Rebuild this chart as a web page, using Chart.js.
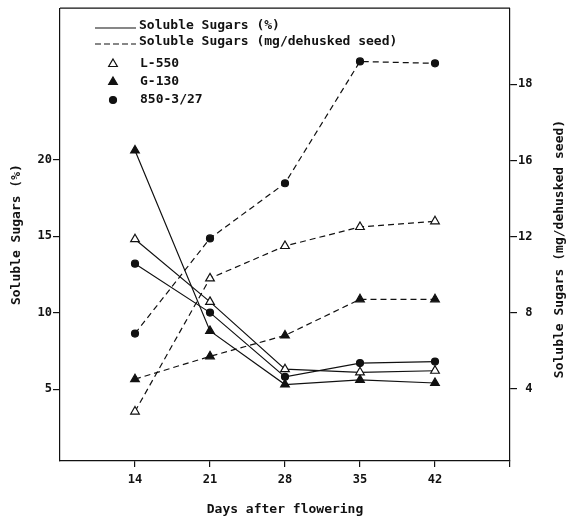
<!DOCTYPE html>
<html>
<head>
<meta charset="utf-8">
<script src="https://cdn.jsdelivr.net/npm/chart.js@4.4.1/dist/chart.umd.min.js"></script>
<style>
  html, body { margin: 0; padding: 0; background: #fff; }
  #wrap { width: 570px; height: 521px; }
</style>
</head>
<body>
<div id="wrap"><canvas id="sugarChart"></canvas></div>
<script>
const days = [14, 21, 28, 35, 42];

// Soluble sugars (%) - left axis
const pctL550 = [14.8, 10.7, 6.3, 6.1, 6.2];
const pctG130 = [20.6, 8.8, 5.3, 5.6, 5.4];
const pct850 = [13.2, 10.0, 5.8, 6.7, 6.8];

// Soluble sugars (mg/dehusked seed) - right axis
const mgL550 = [2.8, 9.8, 11.5, 12.5, 12.8];
const mgG130 = [4.5, 5.7, 6.8, 8.7, 8.7];
const mg850 = [6.9, 11.9, 14.8, 21.2, 21.1];

const xTicks = [14, 21, 28, 35, 42, 49];
const xTickLabels = ['14', '21', '28', '35', '42', ''];
const leftTicks = [5, 10, 15, 20];
const rightTicks = [4, 8, 12, 16, 20];
const rightTickLabels = [' 4', ' 8', '12', '16', '18']; // as printed on the figure

const ink = '#111';
const mono = 'DejaVu Sans Mono';

function pts(values) {
    return values.map((v, i) => ({ x: days[i], y: v }));
}

function series(label, values, axis, style, filled, dashed) {
    return {
        label: label,
        data: pts(values),
        yAxisID: axis,
        borderColor: ink,
        borderWidth: 1.2,
        borderDash: dashed ? [6, 4] : [],
        pointStyle: style,
        pointRadius: style === 'circle' ? 3.5 : 5,
        pointBorderWidth: 1.2,
        pointBorderColor: ink,
        pointBackgroundColor: filled ? ink : '#fff',
        tension: 0
    };
}

// legend + top frame + right axis title, drawn by hand like the original figure
const overlay = {
    id: 'overlay',
    afterDraw(chart) {
        const ctx = chart.ctx;
        const { left, right, top } = chart.chartArea;
        ctx.save();
        ctx.strokeStyle = ink;
        ctx.fillStyle = ink;
        ctx.lineWidth = 1.2;

        ctx.beginPath();
        ctx.moveTo(left, top);
        ctx.lineTo(right, top);
        ctx.stroke();

        ctx.font = 'bold 13px "' + mono + '"';
        ctx.textBaseline = 'middle';
        ctx.textAlign = 'left';

        // line style keys
        ctx.beginPath();
        ctx.moveTo(95, 28); ctx.lineTo(136, 28);
        ctx.stroke();
        ctx.fillText('Soluble Sugars (%)', 139, 26);

        ctx.setLineDash([6, 3]);
        ctx.beginPath();
        ctx.moveTo(95, 44); ctx.lineTo(136, 44);
        ctx.stroke();
        ctx.setLineDash([]);
        ctx.fillText('Soluble Sugars (mg/dehusked seed)', 139, 42);

        // marker keys
        const keys = [
            { text: 'L-550', style: 'triangle', fill: '#fff', r: 5, y: 64 },
            { text: 'G-130', style: 'triangle', fill: ink, r: 5, y: 82 },
            { text: '850-3/27', style: 'circle', fill: ink, r: 3.5, y: 100 }
        ];
        keys.forEach(k => {
            ctx.fillStyle = k.fill;
            Chart.helpers.drawPoint(ctx, { pointStyle: k.style, radius: k.r, rotation: 0, borderWidth: 1.2 }, 113, k.y);
            ctx.fillStyle = ink;
            ctx.fillText(k.text, 140, k.y);
        });

        // right title reads bottom-to-top
        ctx.translate(560, 249);
        ctx.rotate(-Math.PI / 2);
        ctx.textAlign = 'center';
        ctx.fillText('Soluble Sugars (mg/dehusked seed)', 0, 0);
        ctx.restore();
    }
};

const tickFont = { family: mono, size: 12, weight: 'bold' };
const titleFont = { family: mono, size: 13, weight: 'bold' };

new Chart(document.getElementById('sugarChart'), {
    type: 'line',
    data: {
        datasets: [
            series('L-550 %', pctL550, 'y', 'triangle', false, false),
            series('G-130 %', pctG130, 'y', 'triangle', true, false),
            series('850-3/27 %', pct850, 'y', 'circle', true, false),
            series('L-550 mg', mgL550, 'y1', 'triangle', false, true),
            series('G-130 mg', mgG130, 'y1', 'triangle', true, true),
            series('850-3/27 mg', mg850, 'y1', 'circle', true, true)
        ]
    },
    options: {
        responsive: true,
        maintainAspectRatio: false,
        animation: false,
        layout: { padding: { top: 7, left: 0, right: 0, bottom: 0 } },
        plugins: {
            legend: { display: false },
            tooltip: { enabled: false }
        },
        scales: {
            x: {
                type: 'linear',
                min: 7,
                max: 49,
                afterBuildTicks: s => { s.ticks = xTicks.map(v => ({ value: v })); },
                afterFit: s => { s.height = 60; },
                grid: { display: true, drawOnChartArea: false, drawTicks: true, tickLength: 6, color: ink, lineWidth: 1.2 },
                border: { display: true, color: ink, width: 1.2 },
                ticks: {
                    color: ink, font: tickFont, padding: 6, maxRotation: 0,
                    callback: (v, i) => xTickLabels[i]
                },
                title: { display: true, text: 'Days after flowering', color: ink, font: titleFont, padding: { top: 0, bottom: 4 } }
            },
            y: {
                position: 'left',
                min: 0.3,
                max: 29.9,
                afterBuildTicks: s => { s.ticks = leftTicks.map(v => ({ value: v })); },
                afterFit: s => { s.width = 60; },
                grid: { display: true, drawOnChartArea: false, drawTicks: true, tickLength: 7, color: ink, lineWidth: 1.2 },
                border: { display: true, color: ink, width: 1.2 },
                ticks: { color: ink, font: tickFont, padding: 1 },
                title: { display: true, text: 'Soluble Sugars (%)', color: ink, font: titleFont, padding: { top: 9, bottom: 0 } }
            },
            y1: {
                position: 'right',
                min: 0.2,
                max: 24,
                afterBuildTicks: s => { s.ticks = rightTicks.map(v => ({ value: v })); },
                afterFit: s => { s.width = 60; },
                grid: { display: true, drawOnChartArea: false, drawTicks: true, tickLength: 7, color: ink, lineWidth: 1.2 },
                border: { display: true, color: ink, width: 1.2 },
                ticks: {
                    color: ink, font: tickFont, padding: 1,
                    callback: (v, i) => rightTickLabels[i]
                }
            }
        }
    },
    plugins: [overlay]
});
</script>
</body>
</html>
